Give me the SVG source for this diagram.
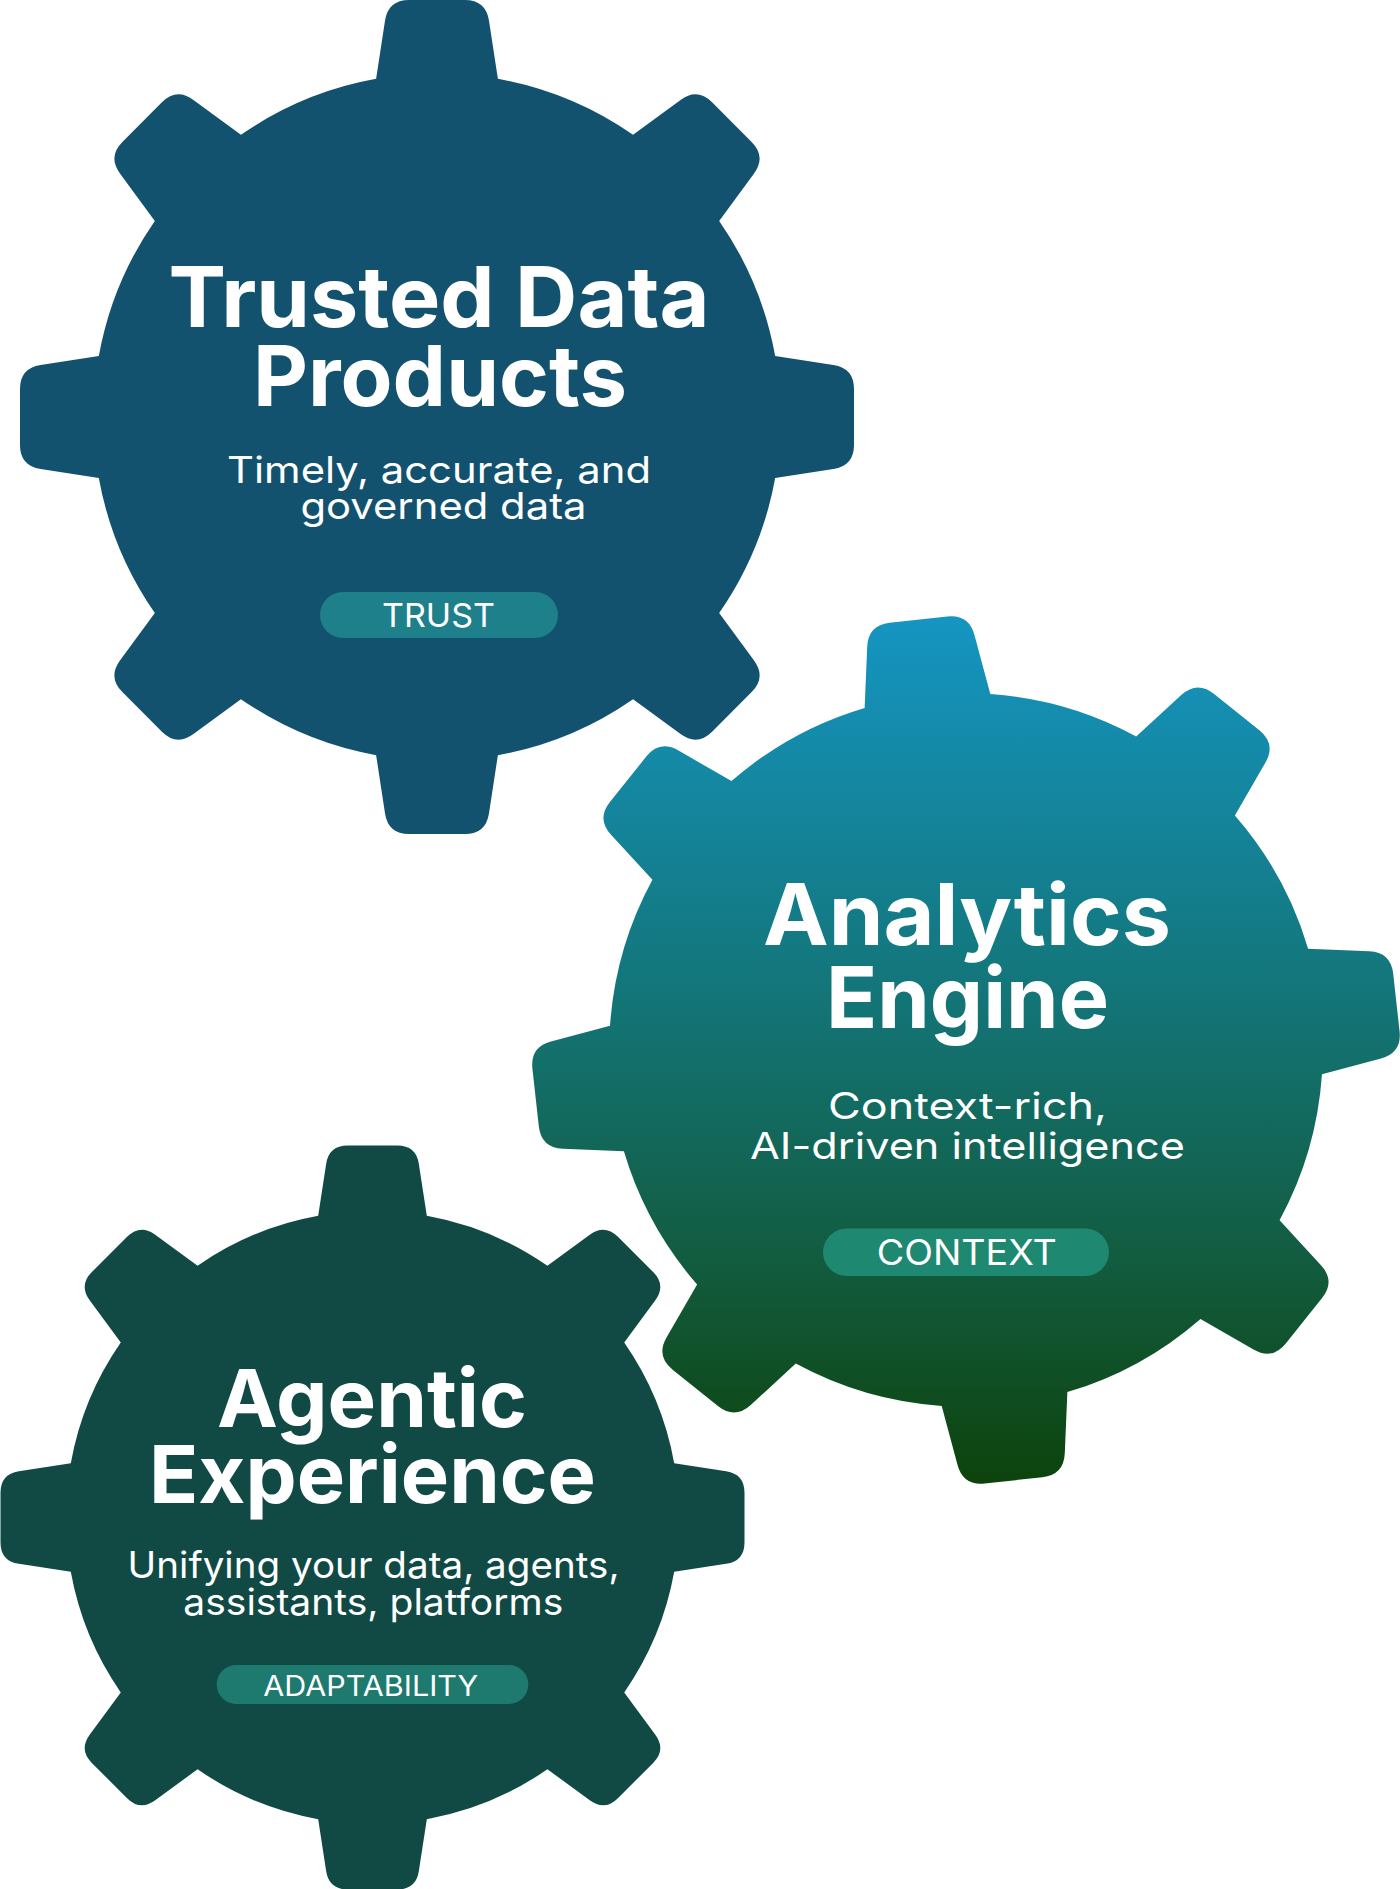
<svg xmlns="http://www.w3.org/2000/svg" xmlns:xlink="http://www.w3.org/1999/xlink" width="1400" height="1889" viewBox="0 0 1400 1889">
<style>
.title{font-family:Inter,"Noto Sans","Liberation Sans",sans-serif;font-weight:700;fill:#ffffff;text-anchor:middle}
.sub{font-family:Inter,"Noto Sans","Liberation Sans",sans-serif;font-weight:400;fill:#ffffff;text-anchor:middle}
.tag{font-family:Inter,"Noto Sans","Liberation Sans",sans-serif;font-weight:400;fill:#ffffff;text-anchor:middle}
</style>
<defs>
<path id="gear" d="M-14.6,-81.1 L-12.46,-95.06 Q-11.7,-100 -6.7,-100 L6.7,-100 Q11.7,-100 12.46,-95.06 L14.6,-81.1 A82.4,82.4 0 0 1 47.02,-67.67 L58.41,-76.03 Q62.44,-78.98 65.97,-75.45 L75.45,-65.97 Q78.98,-62.44 76.03,-58.41 L67.67,-47.02 A82.4,82.4 0 0 1 81.1,-14.6 L95.06,-12.46 Q100,-11.7 100,-6.7 L100,6.7 Q100,11.7 95.06,12.46 L81.1,14.6 A82.4,82.4 0 0 1 67.67,47.02 L76.03,58.41 Q78.98,62.44 75.45,65.97 L65.97,75.45 Q62.44,78.98 58.41,76.03 L47.02,67.67 A82.4,82.4 0 0 1 14.6,81.1 L12.46,95.06 Q11.7,100 6.7,100 L-6.7,100 Q-11.7,100 -12.46,95.06 L-14.6,81.1 A82.4,82.4 0 0 1 -47.02,67.67 L-58.41,76.03 Q-62.44,78.98 -65.97,75.45 L-75.45,65.97 Q-78.98,62.44 -76.03,58.41 L-67.67,47.02 A82.4,82.4 0 0 1 -81.1,14.6 L-95.06,12.46 Q-100,11.7 -100,6.7 L-100,-6.7 Q-100,-11.7 -95.06,-12.46 L-81.1,-14.6 A82.4,82.4 0 0 1 -67.67,-47.02 L-76.03,-58.41 Q-78.98,-62.44 -75.45,-65.97 L-65.97,-75.45 Q-62.44,-78.98 -58.41,-76.03 L-47.02,-67.67 A82.4,82.4 0 0 1 -14.6,-81.1 Z"/>
<linearGradient id="g2" gradientUnits="userSpaceOnUse" x1="0" y1="-100" x2="0" y2="100" gradientTransform="rotate(6.3)">
<stop offset="0" stop-color="#1595C2"/>
<stop offset="0.45" stop-color="#137476"/>
<stop offset="0.75" stop-color="#125B3E"/>
<stop offset="1" stop-color="#0D430C"/>
</linearGradient>
</defs>

<g id="connectors"></g>

<g id="gear-trusted-data-products">
<use xlink:href="#gear" href="#gear" transform="translate(437,417) scale(4.17)" fill="#13526E"/>
<text class="title" x="439" y="327" font-size="84" textLength="541" lengthAdjust="spacingAndGlyphs">Trusted Data</text>
<text class="title" x="440" y="405.5" font-size="84" textLength="374" lengthAdjust="spacingAndGlyphs">Products</text>
<text class="sub" x="439" y="482.5" font-size="37" textLength="424" lengthAdjust="spacingAndGlyphs">Timely, accurate, and</text>
<text class="sub" x="443.5" y="518.5" font-size="37" textLength="286" lengthAdjust="spacingAndGlyphs">governed data</text>
<rect x="320" y="592" width="238" height="46" rx="23" fill="#1E808A"/>
<text class="tag" x="438.5" y="627" font-size="33" textLength="113" lengthAdjust="spacingAndGlyphs">TRUST</text>
</g>

<g id="gear-analytics-engine">
<use xlink:href="#gear" href="#gear" transform="translate(966,1050) rotate(-6.3) scale(4.33)" fill="url(#g2)"/>
<text class="title" x="967" y="944.5" font-size="85" textLength="408" lengthAdjust="spacingAndGlyphs">Analytics</text>
<text class="title" x="967.5" y="1027.5" font-size="85" textLength="283" lengthAdjust="spacingAndGlyphs">Engine</text>
<text class="sub" x="967.5" y="1118.5" font-size="37" textLength="279" lengthAdjust="spacingAndGlyphs">Context-rich,</text>
<text class="sub" x="967.5" y="1159.3" font-size="37" textLength="435" lengthAdjust="spacingAndGlyphs">AI-driven intelligence</text>
<rect x="823" y="1228.5" width="286" height="47.5" rx="23.75" fill="#1F8870"/>
<text class="tag" x="966.7" y="1265" font-size="36" textLength="180" lengthAdjust="spacingAndGlyphs">CONTEXT</text>
</g>

<g id="gear-agentic-experience">
<use xlink:href="#gear" href="#gear" transform="translate(372.5,1517.5) scale(3.72)" fill="#114A45"/>
<text class="title" x="372" y="1427" font-size="80" textLength="310" lengthAdjust="spacingAndGlyphs">Agentic</text>
<text class="title" x="372.5" y="1503" font-size="80" textLength="447" lengthAdjust="spacingAndGlyphs">Experience</text>
<text class="sub" x="373.5" y="1578.4" font-size="37" textLength="492" lengthAdjust="spacingAndGlyphs">Unifying your data, agents,</text>
<text class="sub" x="373.3" y="1614.7" font-size="37" textLength="380" lengthAdjust="spacingAndGlyphs">assistants, platforms</text>
<rect x="216.7" y="1665" width="311.6" height="39" rx="19.5" fill="#1E796F"/>
<text class="tag" x="370.8" y="1695.5" font-size="28" textLength="215" lengthAdjust="spacingAndGlyphs">ADAPTABILITY</text>
</g>
</svg>
